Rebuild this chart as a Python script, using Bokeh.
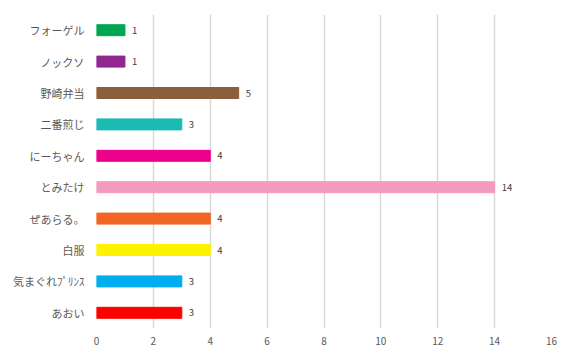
from bokeh.plotting import figure
from bokeh.models import ColumnDataSource, FactorRange, Range1d, FixedTicker
from bokeh.core.properties import value
from bokeh.embed import file_html
from bokeh.resources import INLINE

# categories top to bottom
names = ["フォーゲル", "ノックソ", "野崎弁当", "二番煎じ", "にーちゃん",
         "とみたけ", "ぜあらる。", "白服", "気まぐれﾌﾟﾘﾝｽ", "あおい"]
counts = [1, 1, 5, 3, 4, 14, 4, 4, 3, 3]
colors = ["#00A650", "#92278F", "#8B5E3C", "#1BBBB4", "#EC008C",
          "#F49AC1", "#F26522", "#FFF200", "#00AEEF", "#FF0000"]
x_ticks = [0, 2, 4, 6, 8, 10, 12, 14, 16]

src = ColumnDataSource(dict(name=names, count=counts, color=colors,
                            label=[str(c) for c in counts]))

font = "Noto Sans CJK JP"
p = figure(width=563, height=350, output_backend="svg", toolbar_location=None,
           y_range=FactorRange(factors=names[::-1], range_padding=0),
           x_range=Range1d(0, 16),
           min_border_left=96, min_border_right=12, min_border_top=14,
           min_border_bottom=22)
p.outline_line_color = None
p.background_fill_color = "white"
p.border_fill_color = "white"

p.hbar(y="name", right="count", left=0, height=0.35, color="color", source=src)
p.text(x="count", y="name", text="label", source=src, x_offset=7,
       text_baseline="middle", text_align="left", text_font_size="9.5px",
       text_color="#404040", text_font=value(font))

p.xaxis.ticker = FixedTicker(ticks=x_ticks)
p.xaxis.axis_line_color = None
p.xaxis.major_tick_line_color = None
p.xaxis.minor_tick_line_color = None
p.xaxis.major_label_text_font_size = "10px"
p.xaxis.major_label_text_color = "#595959"
p.xaxis.major_label_text_font = font
p.xaxis.major_label_standoff = 2

p.yaxis.axis_line_color = None
p.yaxis.major_tick_line_color = None
p.yaxis.major_label_text_font_size = "11px"
p.yaxis.major_label_text_color = "#595959"
p.yaxis.major_label_text_font = font
p.yaxis.major_label_standoff = 6

p.xgrid.grid_line_color = "#D9D9D9"
p.xgrid.grid_line_width = 1.5
p.ygrid.grid_line_color = None

open("out.html", "w").write(file_html(p, INLINE))
